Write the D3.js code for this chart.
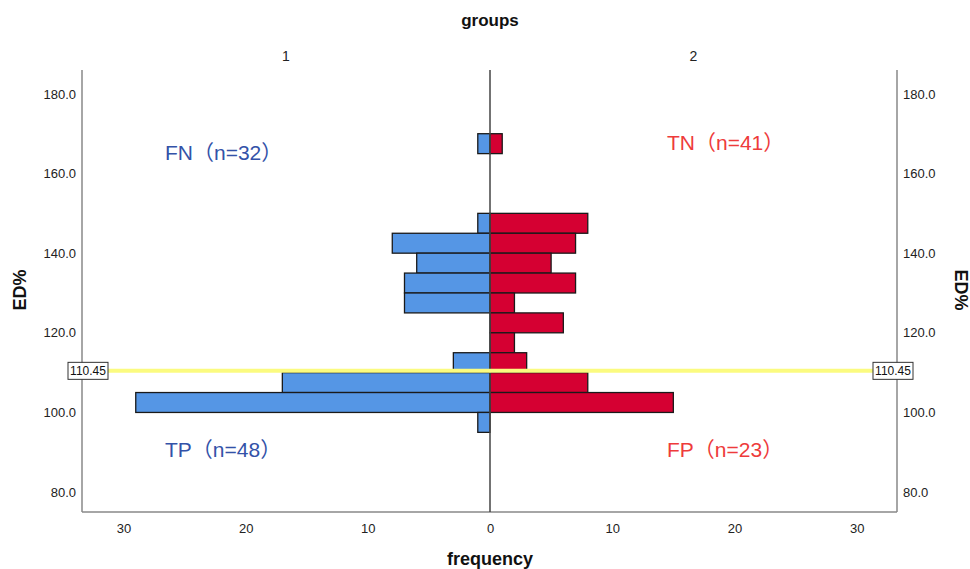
<!DOCTYPE html>
<html><head><meta charset="utf-8">
<script src="https://cdn.jsdelivr.net/npm/d3@7"></script>
<style>body{margin:0;background:#fff}svg{display:block}text{font-family:"Liberation Sans",Arial,"Noto Sans CJK SC",sans-serif}</style>
</head><body>
<script>
// Data
const binStart = [165,145,140,135,130,125,120,115,110,105,100,95];
const binWidth = 5;
const group1 = [1,1,8,6,7,7,0,0,3,17,29,1];
const group2 = [1,8,7,5,7,2,6,2,3,8,15,0];
const groupLabels = ["1","2"];
const yTicks = [80,100,120,140,160,180];
const xTicks = [0,10,20,30];
const threshold = 110.45;
const annotations = [
  {text:"FN（n=32）", side:0, y:160, color:"#3352a8"},
  {text:"TN（n=41）", side:1, y:150, color:"#ee3b3b"},
  {text:"TP（n=48）", side:0, y:457, color:"#3352a8"},
  {text:"FP（n=23）", side:1, y:457, color:"#ee3b3b"}
];
const annotX = [165, 667];

const W=970,H=569;
const svg=d3.select("body").append("svg").attr("width",W).attr("height",H);
const L=82,R=897,C=490,T=70,B=512;
const y=d3.scaleLinear().domain([75,186]).range([B,T]);
const xL=d3.scaleLinear().domain([0,33.4]).range([C,L]);
const xR=d3.scaleLinear().domain([0,33.3]).range([C,R]);

// frame lines
svg.append("line").attr("x1",L).attr("x2",L).attr("y1",T).attr("y2",B).attr("stroke","#888").attr("stroke-width",1.5);
svg.append("line").attr("x1",R).attr("x2",R).attr("y1",T).attr("y2",B).attr("stroke","#888").attr("stroke-width",1.5);
svg.append("line").attr("x1",L).attr("x2",R).attr("y1",B).attr("y2",B).attr("stroke","#888").attr("stroke-width",1.5);

// axes
const yAxL=svg.append("g").attr("transform",`translate(${L},0)`).call(d3.axisLeft(y).tickValues(yTicks).tickFormat(d3.format(".1f")).tickSize(0).tickPadding(6));
const yAxR=svg.append("g").attr("transform",`translate(${R},0)`).call(d3.axisRight(y).tickValues(yTicks).tickFormat(d3.format(".1f")).tickSize(0).tickPadding(6));
const xAxL=svg.append("g").attr("transform",`translate(0,${B})`).call(d3.axisBottom(xL).tickValues(xTicks).tickSize(0).tickPadding(12));
const xAxR=svg.append("g").attr("transform",`translate(0,${B})`).call(d3.axisBottom(xR).tickValues(xTicks.slice(1)).tickSize(0).tickPadding(12));
[yAxL,yAxR,xAxL,xAxR].forEach(g=>{g.select(".domain").remove();g.selectAll("text").attr("font-size",13).attr("fill","#222").attr("font-family","Liberation Sans, Arial, sans-serif");});

// bars
const rows=binStart.map((s,i)=>({s,a:group1[i],b:group2[i]}));
svg.append("g").selectAll("rect").data(rows.filter(d=>d.a>0)).join("rect")
  .attr("x",d=>xL(d.a)).attr("width",d=>C-xL(d.a))
  .attr("y",d=>y(d.s+binWidth)).attr("height",d=>y(d.s)-y(d.s+binWidth))
  .attr("fill","#5596e5").attr("stroke","#1a1a1a").attr("stroke-width",1.3);
svg.append("g").selectAll("rect").data(rows.filter(d=>d.b>0)).join("rect")
  .attr("x",C).attr("width",d=>xR(d.b)-C)
  .attr("y",d=>y(d.s+binWidth)).attr("height",d=>y(d.s)-y(d.s+binWidth))
  .attr("fill","#d50032").attr("stroke","#1a1a1a").attr("stroke-width",1.3);

// center line
svg.append("line").attr("x1",C).attr("x2",C).attr("y1",T).attr("y2",B).attr("stroke","#444").attr("stroke-width",1.5);

// threshold line
svg.append("line").attr("x1",108).attr("x2",873).attr("y1",y(threshold)).attr("y2",y(threshold)).attr("stroke","#fbfb80").attr("stroke-width",4);
[[68,108],[873,913]].forEach(([a,b])=>{
  svg.append("rect").attr("x",a).attr("y",y(threshold)-8.5).attr("width",b-a).attr("height",17).attr("fill","#fff").attr("stroke","#333").attr("stroke-width",1);
  svg.append("text").attr("x",(a+b)/2).attr("y",y(threshold)+4.5).attr("text-anchor","middle").attr("font-size",12).attr("fill","#111").text(threshold.toFixed(2));
});

// titles
svg.append("text").attr("x",C).attr("y",26).attr("text-anchor","middle").attr("font-size",17).attr("font-weight","bold").attr("fill","#111").text("groups");
svg.append("text").attr("x",(L+C)/2).attr("y",61).attr("text-anchor","middle").attr("font-size",14).attr("fill","#222").text(groupLabels[0]);
svg.append("text").attr("x",(C+R)/2).attr("y",61).attr("text-anchor","middle").attr("font-size",14).attr("fill","#222").text(groupLabels[1]);
svg.append("text").attr("transform","translate(26,290) rotate(-90)").attr("text-anchor","middle").attr("font-size",18).attr("font-weight","bold").attr("fill","#111").text("ED%");
svg.append("text").attr("transform","translate(955,290) rotate(90)").attr("text-anchor","middle").attr("font-size",18).attr("font-weight","bold").attr("fill","#111").text("ED%");
svg.append("text").attr("x",C).attr("y",565).attr("text-anchor","middle").attr("font-size",18).attr("font-weight","bold").attr("fill","#111").text("frequency");

// annotations
svg.append("g").selectAll("text").data(annotations).join("text")
  .attr("x",d=>annotX[d.side]).attr("y",d=>d.y).attr("font-size",21).attr("fill",d=>d.color)
  .attr("font-family","Liberation Sans, Arial, Noto Sans CJK SC, sans-serif").text(d=>d.text);
</script>
</body></html>
